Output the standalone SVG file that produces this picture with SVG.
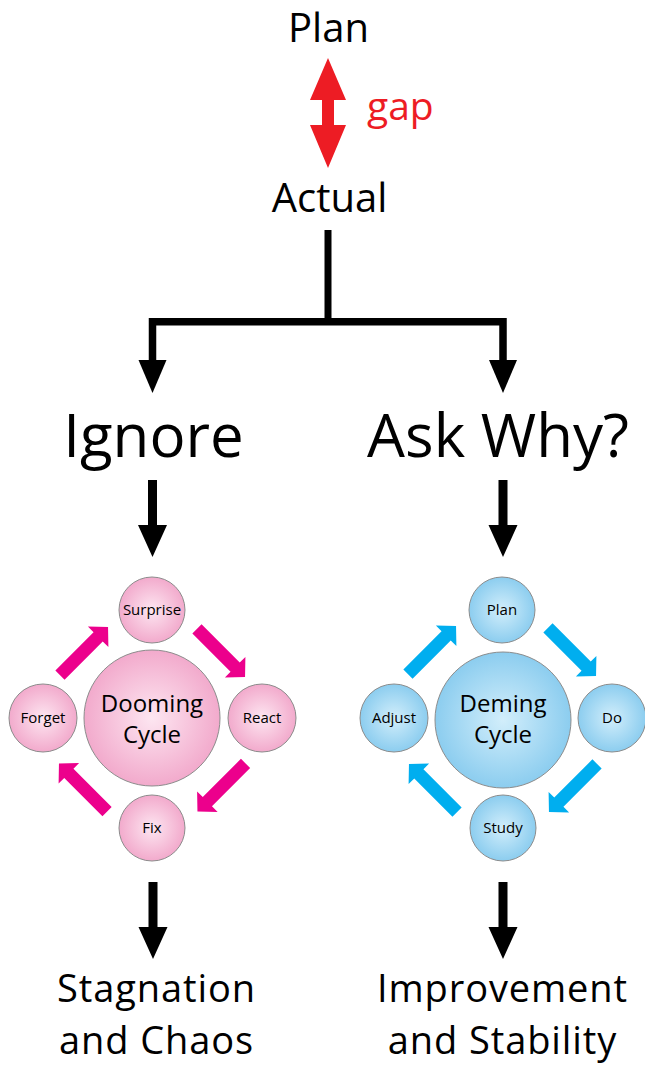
<svg xmlns="http://www.w3.org/2000/svg" width="645" height="1066" viewBox="0 0 645 1066">
<defs>
<style>
text{font-family:"Open Sans","Liberation Sans",sans-serif;fill:#000;text-anchor:middle}
.big{font-size:40px}
.end{font-size:38px;letter-spacing:0.9px}
.huge{font-size:60px}
.gap{font-size:39px;fill:#ed1c24;text-anchor:start}
.sm{font-size:15px}
.mid{font-size:24px}
.pk{fill:url(#gp);stroke:#8c8c8c;stroke-width:1}
.bl{fill:url(#gb);stroke:#8c8c8c;stroke-width:1}
.pa{fill:#ec008c}
.ba{fill:#00aeef}
.ln{fill:none;stroke:#000;stroke-width:7;stroke-linejoin:miter;stroke-linecap:butt}
</style>
<radialGradient id="gp" cx="0.5" cy="0.5" r="0.5">
<stop offset="0" stop-color="#fde6f1"/>
<stop offset="1" stop-color="#f2aacc"/>
</radialGradient>
<radialGradient id="gb" cx="0.5" cy="0.5" r="0.5">
<stop offset="0" stop-color="#d2eefb"/>
<stop offset="1" stop-color="#8ccdef"/>
</radialGradient>
<polygon id="ca" points="-34,-6.5 20,-6.5 20,-14.5 34,0 20,14.5 20,6.5 -34,6.5"/>
<polygon id="down" points="-4.5,0 4.5,0 4.5,45 14.5,45 0,77 -14.5,45 -4.5,45"/>
</defs>

<g id="plan"><text class="big" x="328.5" y="42">Plan</text></g>
<g id="gap"><polygon fill="#ed1c24" points="328,58 346,100 334,100 334,125 346,125 328,168 310,125 322,125 322,100 310,100"/><text class="gap" x="367" y="120">gap</text></g>
<g id="actual"><text class="big" x="329.5" y="212">Actual</text></g>

<g id="connectors">
<path class="ln" d="M328,230 V322"/>
<path class="ln" d="M152.5,363 V321.7 H503 V363" style="stroke-width:7.5"/>
<polygon points="138.5,360 166.5,360 152.5,393"/>
<polygon points="489,360 517,360 503,393"/>
<use href="#down" x="152.5" y="480"/>
<use href="#down" x="503" y="480"/>
<use href="#down" x="153" y="882"/>
<use href="#down" x="503" y="882"/>
</g>

<g id="ignore"><text class="huge" x="153.5" y="457">Ignore</text></g>
<g id="askwhy"><text class="huge" x="498" y="457">Ask Why?</text></g>

<g id="dooming-arrows">
<use href="#ca" class="pa" transform="translate(84,651) rotate(-45)"/>
<use href="#ca" class="pa" transform="translate(221,653) rotate(45)"/>
<use href="#ca" class="pa" transform="translate(221.5,787.5) rotate(135)"/>
<use href="#ca" class="pa" transform="translate(83,787.5) rotate(-135)"/>
</g>
<g id="dooming"><circle class="pk" cx="152" cy="718" r="68"/><text class="mid" x="152" y="712">Dooming</text><text class="mid" x="152" y="743">Cycle</text></g>
<g id="surprise"><circle class="pk" cx="152" cy="610" r="33"/><text class="sm" x="152" y="615">Surprise</text></g>
<g id="react"><circle class="pk" cx="262" cy="718" r="34"/><text class="sm" x="262" y="723">React</text></g>
<g id="fix"><circle class="pk" cx="152" cy="828" r="33"/><text class="sm" x="152" y="833">Fix</text></g>
<g id="forget"><circle class="pk" cx="43" cy="718" r="34"/><text class="sm" x="43" y="723">Forget</text></g>

<g id="deming-arrows">
<use href="#ca" class="ba" transform="translate(432,650) rotate(-45)"/>
<use href="#ca" class="ba" transform="translate(572,652) rotate(45)"/>
<use href="#ca" class="ba" transform="translate(573,788) rotate(135)"/>
<use href="#ca" class="ba" transform="translate(433,788) rotate(-135)"/>
</g>
<g id="deming"><circle class="bl" cx="503" cy="720" r="68"/><text class="mid" x="503" y="712">Deming</text><text class="mid" x="503" y="743">Cycle</text></g>
<g id="pdsa-plan"><circle class="bl" cx="502" cy="610" r="33"/><text class="sm" x="502" y="615">Plan</text></g>
<g id="do"><circle class="bl" cx="612" cy="718" r="34"/><text class="sm" x="612" y="723">Do</text></g>
<g id="study"><circle class="bl" cx="503" cy="828" r="33"/><text class="sm" x="503" y="833">Study</text></g>
<g id="adjust"><circle class="bl" cx="394" cy="718" r="34"/><text class="sm" x="394" y="723">Adjust</text></g>

<g id="stagnation"><text class="end" x="156.5" y="1002">Stagnation</text><text class="end" x="156.5" y="1054">and Chaos</text></g>
<g id="improvement"><text class="end" x="502.5" y="1002">Improvement</text><text class="end" x="502.5" y="1054">and Stability</text></g>
</svg>
